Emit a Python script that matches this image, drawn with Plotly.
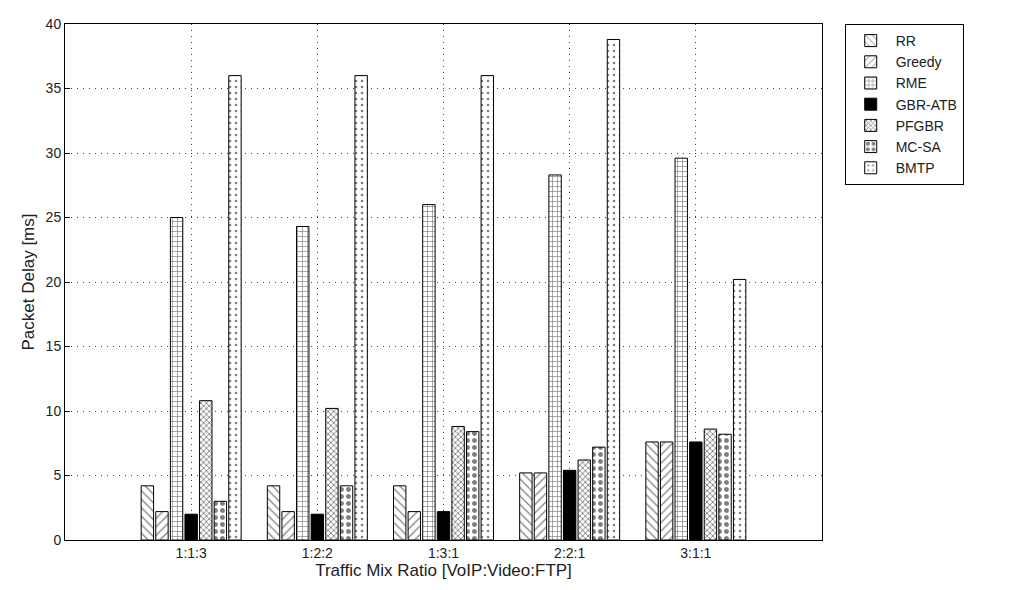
import plotly.graph_objects as go

# data
ratios = ["1:1:3", "1:2:2", "1:3:1", "2:2:1", "3:1:1"]
rr = [4.2, 4.2, 4.2, 5.2, 7.6]
greedy = [2.2, 2.2, 2.2, 5.2, 7.6]
rme = [25.0, 24.3, 26.0, 28.3, 29.6]
gbr_atb = [2.0, 2.0, 2.2, 5.4, 7.6]
pfgbr = [10.8, 10.2, 8.8, 6.2, 8.6]
mc_sa = [3.0, 4.2, 8.4, 7.2, 8.2]
bmtp = [36.0, 36.0, 36.0, 38.8, 20.2]

series = [
    ("RR", rr, dict(shape="\\", size=6, solidity=0.2)),
    ("Greedy", greedy, dict(shape="/", size=6, solidity=0.2)),
    ("RME", rme, dict(shape="+", size=5, solidity=0.25)),
    ("GBR-ATB", gbr_atb, None),
    ("PFGBR", pfgbr, dict(shape="x", size=4, solidity=0.4)),
    ("MC-SA", mc_sa, dict(shape=".", size=7, solidity=0.4)),
    ("BMTP", bmtp, dict(shape=".", size=6, solidity=0.15)),
]

xpos = list(range(1, len(ratios) + 1))

fig = go.Figure()
for name, vals, pat in series:
    if pat is None:
        marker = dict(color="black", line=dict(color="black", width=1))
    else:
        marker = dict(color="white", line=dict(color="black", width=1),
                      pattern=dict(fgcolor="black", bgcolor="white",
                                   fillmode="overlay", **pat))
    fig.add_trace(go.Bar(x=xpos, y=vals, name=name, marker=marker))

# page has an 8px body margin, so the figure is a bit smaller than the window
fig.update_layout(
    width=1000, height=580,
    margin=dict(l=57, r=186, t=8, b=48),
    paper_bgcolor="white", plot_bgcolor="white",
    font=dict(family="Liberation Sans, Arial", size=14, color="#222"),
    barmode="group", bargap=0.19, bargroupgap=0.15,
    legend=dict(x=1.03, y=1, xanchor="left", yanchor="top",
                bordercolor="black", borderwidth=1, bgcolor="white",
                font=dict(size=14), itemwidth=40),
    showlegend=True,
)
fig.update_xaxes(
    range=[0, 6], tickvals=xpos, ticktext=ratios,
    title=dict(text="Traffic Mix Ratio [VoIP:Video:FTP]", standoff=2),
    showgrid=True, gridcolor="#444", griddash="1px,5px", gridwidth=1,
    showline=True, linecolor="black", mirror=True,
    ticks="inside", ticklen=5, tickcolor="black", zeroline=False,
)
fig.update_yaxes(
    range=[0, 40], dtick=5, ticklabeloverflow="allow",
    title=dict(text="Packet Delay [ms]", standoff=6),
    showgrid=True, gridcolor="#444", griddash="1px,5px", gridwidth=1,
    showline=True, linecolor="black", mirror=True,
    ticks="inside", ticklen=5, tickcolor="black", zeroline=False,
)

fig.write_html("out.html")
